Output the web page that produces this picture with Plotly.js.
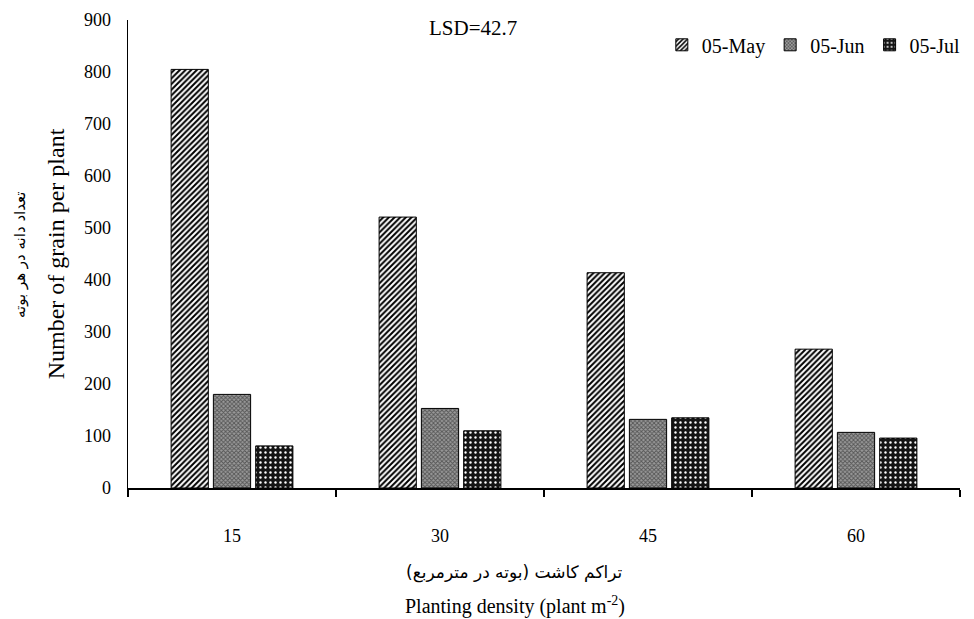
<!DOCTYPE html>
<html>
<head>
<meta charset="utf-8">
<script src="https://cdn.plot.ly/plotly-3.0.1.min.js"></script>
<style>html,body{margin:0;padding:0;background:#fff;}#chart{width:974px;height:619px;}</style>
</head>
<body>
<div id="chart"></div>
<script>
const categories = ['15', '30', '45', '60'];
const seriesNames = ['05-May', '05-Jun', '05-Jul'];
const may = [805, 521, 414, 267];
const jun = [180, 153, 132, 107];
const jul = [81, 110, 135, 96];
const yTicks = [0, 100, 200, 300, 400, 500, 600, 700, 800, 900];

const serif = 'Liberation Serif';
const persian = 'DejaVu Sans';

const patterns = [
  {shape: '/', size: 4, solidity: 0.5, fgcolor: '#000', bgcolor: '#fff', fillmode: 'replace'},
  {shape: 'x', size: 3, solidity: 0.5, fgcolor: '#555', bgcolor: '#9a9a9a', fillmode: 'replace'},
  {shape: '.', size: 5, solidity: 0.18, fgcolor: '#fff', bgcolor: '#151515', fillmode: 'replace'}
];
const values = [may, jun, jul];

const traces = seriesNames.map((name, i) => ({
  type: 'bar',
  name: name,
  x: categories,
  y: values[i],
  marker: {color: '#fff', line: {color: '#000', width: 1}, pattern: patterns[i]}
}));

const layout = {
  width: 974, height: 619,
  margin: {l: 128, r: 14, t: 20, b: 131, autoexpand: false},
  paper_bgcolor: '#fff', plot_bgcolor: '#fff',
  barmode: 'group', bargap: 0.39, bargroupgap: 0.12,
  font: {family: serif, color: '#000'},
  showlegend: true,
  legend: {orientation: 'h', x: 1.007, xanchor: 'right', y: 0.947, yanchor: 'middle',
           font: {family: serif, size: 20, color: '#000'}, itemwidth: 30, tracegroupgap: 0,
           bgcolor: 'rgba(0,0,0,0)'},
  xaxis: {
    type: 'category', showline: true, linecolor: '#000', linewidth: 2,
    ticks: 'outside', tickson: 'boundaries', ticklen: 7, tickwidth: 2, tickcolor: '#000',
    showgrid: false, zeroline: false, ticklabelstandoff: 30,
    tickfont: {family: serif, size: 18, color: '#000'}
  },
  yaxis: {
    range: [0, 900], tickvals: yTicks, ticktext: yTicks.map(String),
    showline: true, linecolor: '#000', linewidth: 1.5, ticks: '', showgrid: false, zeroline: false,
    ticklabelstandoff: 12, automargin: false,
    tickfont: {family: serif, size: 18, color: '#000'},
    title: {text: 'Number of grain per plant', font: {family: serif, size: 24, color: '#000'}, standoff: 12}
  },
  annotations: [
    {text: 'LSD=42.7', xref: 'paper', yref: 'paper', x: 0.415, y: 0.983, xanchor: 'center', yanchor: 'middle',
     showarrow: false, font: {family: serif, size: 21, color: '#000'}},
    {text: 'تعداد دانه در هر بوته', xref: 'paper', yref: 'paper', x: (20 - 128) / 832, y: 0.5,
     xanchor: 'center', yanchor: 'middle', textangle: -90, showarrow: false,
     font: {family: persian, size: 15, color: '#000'}},
    {text: 'تراکم کاشت (بوته در مترمربع)', xref: 'paper', yref: 'paper', x: 0.465, y: (488 - 572) / 468,
     xanchor: 'center', yanchor: 'middle', showarrow: false, font: {family: persian, size: 17, color: '#000'}},
    {text: 'Planting density (plant m<sup>-2</sup>)', xref: 'paper', yref: 'paper', x: 0.465, y: (488 - 605) / 468,
     xanchor: 'center', yanchor: 'middle', showarrow: false, font: {family: serif, size: 20, color: '#000'}}
  ]
};

Plotly.newPlot('chart', traces, layout, {displayModeBar: false, staticPlot: true});
</script>
</body>
</html>
